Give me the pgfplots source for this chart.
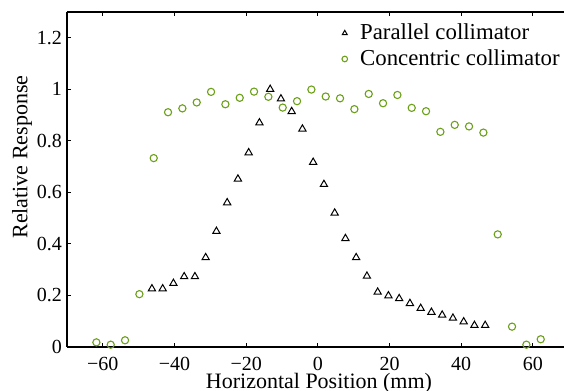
\documentclass[border=0pt]{standalone}
\usepackage{pgfplots}
\pgfplotsset{compat=1.18}
\usepackage{fontspec}
\setmainfont{Liberation Serif}
\definecolor{cgreen}{RGB}{107,160,24}
\begin{document}
\begin{tikzpicture}
\begin{axis}[
  scale only axis, width=248.5pt, height=167.5pt,
  xmin=-70, xmax=68.7, ymin=0, ymax=1.3,
  axis x line*=box, axis y line*=left,
  axis line style={-, line width=0.6pt, black},
  tick align=inside, major tick length=2.2pt,
  tick style={line width=0.5pt, black},
  /pgf/number format/assume math mode=true,
  xtick={-60,-40,-20,0,20,40,60},
  xticklabels={−60,−40,−20,0,20,40,60},
  ytick={0,0.2,0.4,0.6,0.8,1,1.2},
  yticklabels={0,0.2,0.4,0.6,0.8,1,1.2},
  ticklabel style={font=\rmfamily\fontsize{10}{12}\selectfont},
  xticklabel style={yshift=-1.5pt},
  yticklabel style={xshift=1pt},
  xlabel={Horizontal Position (mm)},
  ylabel={Relative Response},
  label style={font=\rmfamily\fontsize{11}{13}\selectfont},
  xlabel style={at={(axis description cs:0.507,-0.125)}, anchor=base},
  ylabel style={at={(axis description cs:-0.0905,0.567)}, anchor=center, rotate=0},
  legend style={at={(axis description cs:1.008,0.99)}, anchor=north east, draw=none, fill=none,
    font=\rmfamily\fontsize{11.4}{13}\selectfont, row sep=-0.5pt, inner sep=2pt},
  legend cell align=left,
  legend image code/.code={\path[draw=none] (0cm,0cm) -- (0.5cm,0cm);\draw[mark size=1.4pt] plot[only marks] coordinates {(0.3cm,0cm)};},
]
\addplot[only marks, mark=triangle, mark size=2.1pt, black, mark options={line width=0.5pt}] coordinates {
(-46.3,0.226) (-43.3,0.226) (-40.3,0.247) (-37.3,0.273) (-34.3,0.273)
(-31.3,0.347) (-28.3,0.449) (-25.3,0.560) (-22.3,0.652) (-19.3,0.754)
(-16.3,0.870) (-13.3,1.000) (-10.3,0.963) (-7.3,0.914) (-4.3,0.846)
(-1.3,0.717) (1.7,0.631) (4.7,0.520) (7.7,0.421) (10.7,0.347)
(13.7,0.275) (16.7,0.213) (19.7,0.199) (22.7,0.188) (25.7,0.169)
(28.7,0.150) (31.7,0.135) (34.7,0.124) (37.7,0.112) (40.7,0.098)
(43.7,0.084) (46.7,0.084)
};
\addlegendentry{Parallel collimator}
\addplot[only marks, mark=o, mark size=1.8pt, cgreen, mark options={line width=0.55pt}] coordinates {
(-61.8,0.018) (-57.8,0.009) (-53.8,0.026) (-49.8,0.205) (-45.8,0.733)
(-41.8,0.911) (-37.8,0.926) (-33.8,0.949) (-29.8,0.990) (-25.8,0.942)
(-21.8,0.967) (-17.8,0.991) (-13.8,0.971) (-9.8,0.929) (-5.8,0.954)
(-1.8,0.999) (2.2,0.972) (6.2,0.965) (10.2,0.923) (14.2,0.982)
(18.2,0.946) (22.2,0.978) (26.2,0.928) (30.2,0.915) (34.2,0.835)
(38.2,0.862) (42.2,0.856) (46.2,0.832) (50.2,0.437) (54.2,0.079)
(58.2,0.009) (62.2,0.030)
};
\addlegendentry{Concentric collimator}
\coordinate (sw) at (rel axis cs:0,0);
\end{axis}
\pgfresetboundingbox
\path (sw) ++(-33.5pt,-22pt) rectangle ++(282pt,195.5pt);
\end{tikzpicture}
\end{document}
